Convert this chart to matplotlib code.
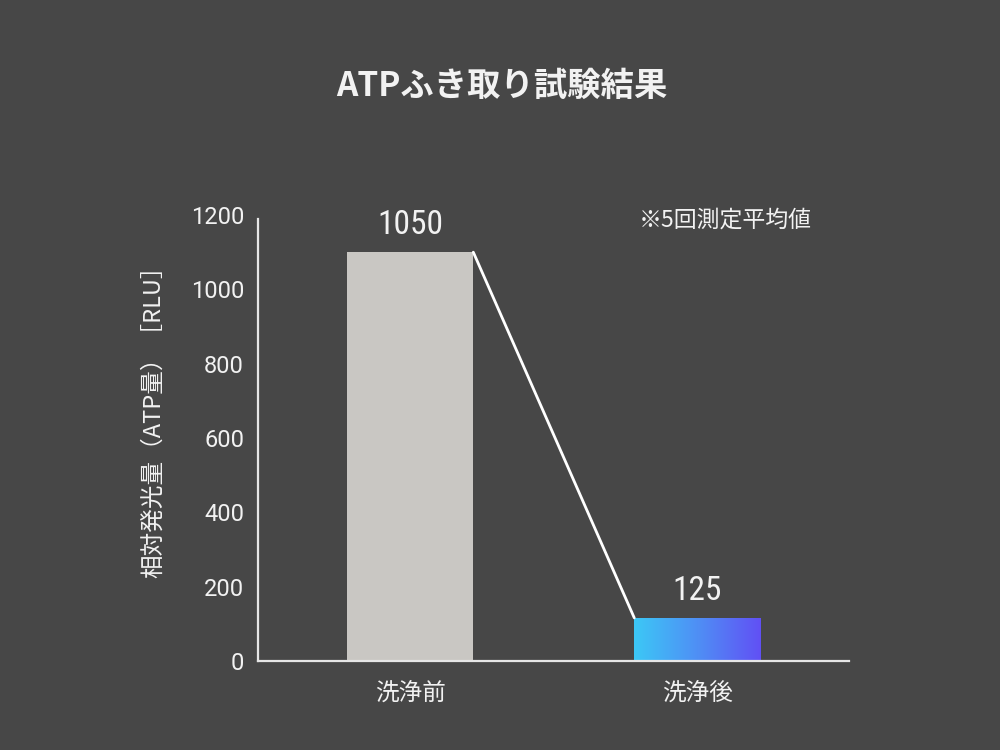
import matplotlib

matplotlib.use("Agg")
import matplotlib.pyplot as plt  # noqa: E402
import numpy as np  # noqa: E402
from matplotlib.colors import LinearSegmentedColormap  # noqa: E402

# values as drawn (bar heights) and the labels printed over them
CATEGORIES = ["洗浄前", "洗浄後"]
BAR_VALUES = [1100, 116]
VALUE_LABELS = ["1050", "125"]
Y_TICKS = [0, 200, 400, 600, 800, 1000, 1200]

BG = "#474747"
INK = "#f2f2f2"
AXIS = "#e6e6e6"
BAR_GREY = "#c9c7c3"
GRAD = ["#3cc8f6", "#4f8ff5", "#6150f4"]

CJK = ["Noto Sans CJK JP", "DejaVu Sans"]
LATIN = ["Roboto", "Noto Sans CJK JP", "DejaVu Sans"]
NARROW = ["Roboto Condensed", "Roboto", "DejaVu Sans"]

BAR_W = 0.44

fig = plt.figure(figsize=(10, 7.5), dpi=100)
fig.patch.set_facecolor(BG)
ax = fig.add_axes([0.258, 0.1187, 0.591, 0.5946])
ax.set_facecolor(BG)

x = np.arange(len(CATEGORIES))

# grey bar (before)
ax.bar(x[0], BAR_VALUES[0], width=BAR_W, color=BAR_GREY, zorder=2)

# gradient bar (after)
grad_bar = ax.bar(x[1], BAR_VALUES[1], width=BAR_W, color="none", zorder=2)[0]
cmap = LinearSegmentedColormap.from_list("atp", GRAD)
img = ax.imshow(np.linspace(0, 1, 256).reshape(1, -1), cmap=cmap, aspect="auto",
                extent=(x[1] - BAR_W / 2, x[1] + BAR_W / 2, 0, BAR_VALUES[1]),
                zorder=2)
img.set_clip_path(grad_bar)

# connector from top-right of first bar to top-left of second
ax.plot([x[0] + BAR_W / 2, x[1] - BAR_W / 2], [BAR_VALUES[0], BAR_VALUES[1]],
        color="white", linewidth=2, zorder=3, solid_capstyle="round")

for xi, v, lab in zip(x, BAR_VALUES, VALUE_LABELS):
    ax.annotate(lab, (xi, v), textcoords="offset points", xytext=(0, 8),
                ha="center", va="bottom", fontsize=24, color=INK, family=NARROW)

ax.set_xlim(-0.529, 1.527)
ax.set_ylim(0, 1200)
ax.set_yticks(Y_TICKS)
ax.set_yticklabels([str(t) for t in Y_TICKS], family=LATIN, fontsize=17, color=INK)
ax.set_xticks(x)
ax.set_xticklabels(CATEGORIES, family=CJK, fontsize=17, color=INK)
ax.tick_params(axis="y", length=0, pad=10)
ax.tick_params(axis="x", length=0, pad=15)

for side in ("top", "right"):
    ax.spines[side].set_visible(False)
for side in ("left", "bottom"):
    ax.spines[side].set_color(AXIS)
    ax.spines[side].set_linewidth(1.6)
ax.spines["left"].set_bounds(0, 1190)

ax.set_ylabel("相対発光量（ATP量）［RLU］", family=CJK, fontsize=17, color=INK)
ax.yaxis.set_label_coords(-0.158, 0.55)

fig.text(0.502, 0.885, "ATPふき取り試験結果", ha="center", va="center",
         family=CJK, fontsize=24, fontweight="bold", color=INK)
fig.text(0.639, 0.707, "※5回測定平均値", ha="left", va="center",
         family=CJK, fontsize=16.5, color=INK)

fig.savefig("out.png", facecolor=BG)
